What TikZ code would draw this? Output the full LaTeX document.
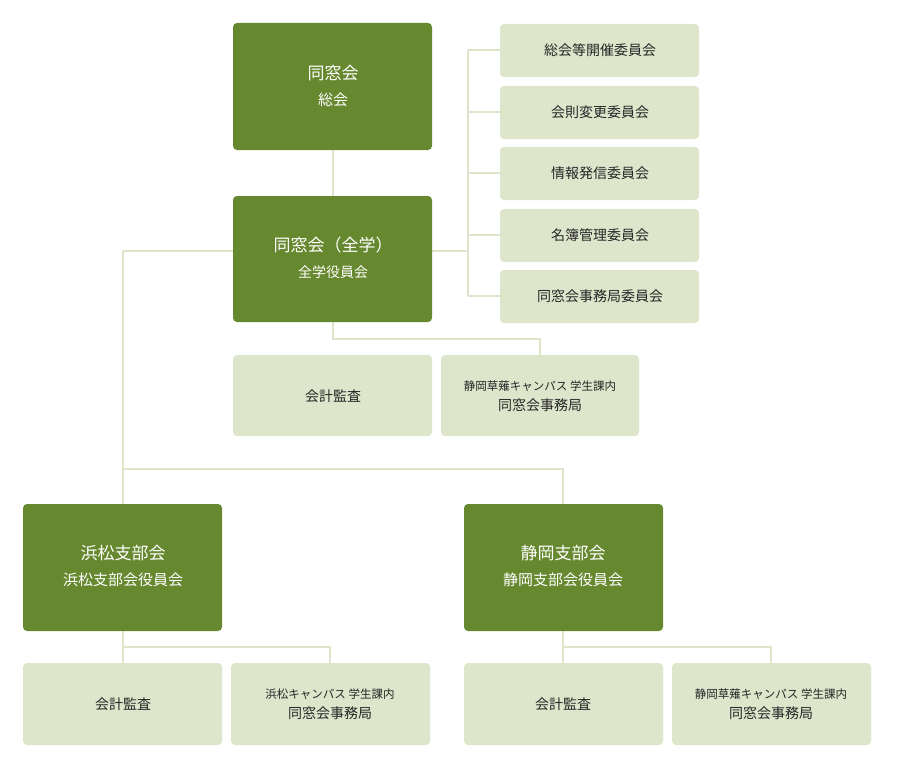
\documentclass[tikz,border=0pt]{standalone}
\usepackage{fontspec}
\setmainfont{Noto Sans CJK JP}
\definecolor{dk}{HTML}{66882F}
\definecolor{lt}{HTML}{DDE5CB}
\tikzset{
 dkbox/.style={fill=dk,rounded corners=4pt,text=white,align=center,font=\fontsize{17}{26}\selectfont},
 ltbox/.style={fill=lt,rounded corners=4pt,text=black!85,align=center,font=\fontsize{14}{20}\selectfont},
 ln/.style={draw=lt,line width=2pt},
 sm/.style={font=\fontsize{11.5}{14}\selectfont}
}
\begin{document}
\begin{tikzpicture}[x=1pt,y=-1pt]
\useasboundingbox (0,0) rectangle (900,768);
% connectors first
\coordinate (br) at (468,251);
\draw[ln] (333,150) -- (333,196);
\draw[ln] (432,251) -- (468,251);
\draw[ln] (468,50) -- (468,296);
\foreach \y in {50,112,173,235,296} \draw[ln] (468,\y) -- (500,\y);
\draw[ln] (333,322) -- (333,339) -- (540,339) -- (540,355);
\draw[ln] (233,251) -- (123,251) -- (123,504);
\draw[ln] (123,469) -- (563,469) -- (563,504);
\draw[ln] (123,631) -- (123,663);
\draw[ln] (123,647) -- (330,647) -- (330,663);
\draw[ln] (563,631) -- (563,663);
\draw[ln] (563,647) -- (771,647) -- (771,663);
% dark boxes
\path[dkbox] (233,23) rectangle (432,150);
\node[dkbox] (top) at (333,86) {同窓会\\{\fontsize{15}{24}\selectfont 総会}};
\path[dkbox] (233,196) rectangle (432,322);
\node[dkbox] (mid) at (333,258) {同窓会（全学）\\{\fontsize{14}{24}\selectfont 全学役員会}};
\path[dkbox] (23,504) rectangle (222,631);
\node[dkbox] (hm) at (123,566) {浜松支部会\\{\fontsize{15}{24}\selectfont 浜松支部会役員会}};
\path[dkbox] (464,504) rectangle (663,631);
\node[dkbox] (sz) at (563,566) {静岡支部会\\{\fontsize{15}{24}\selectfont 静岡支部会役員会}};
% committees
\foreach \t/\y [count=\i] in {総会等開催委員会/24,会則変更委員会/86,情報発信委員会/147,名簿管理委員会/209,同窓会事務局委員会/270}{
 \path[ltbox] (500,\y) rectangle (699,\y+53);
 \node[ltbox] (c\i) at (600,\y+26.5) {\t};
}
\path[ltbox] (233,355) rectangle (432,436);
\node[ltbox] (ka1) at (333,396) {会計監査};
\path[ltbox] (441,355) rectangle (639,436);
\node[ltbox] (ji1) at (540,396) {{\fontsize{11.5}{20}\selectfont 静岡草薙キャンパス 学生課内}\\同窓会事務局};
\path[ltbox] (23,663) rectangle (222,745);
\node[ltbox] (ka2) at (123,704) {会計監査};
\path[ltbox] (231,663) rectangle (430,745);
\node[ltbox] (ji2) at (330,704) {{\fontsize{11.5}{20}\selectfont 浜松キャンパス 学生課内}\\同窓会事務局};
\path[ltbox] (464,663) rectangle (663,745);
\node[ltbox] (ka3) at (563,704) {会計監査};
\path[ltbox] (672,663) rectangle (871,745);
\node[ltbox] (ji3) at (771,704) {{\fontsize{11.5}{20}\selectfont 静岡草薙キャンパス 学生課内}\\同窓会事務局};
\end{tikzpicture}
\end{document}
